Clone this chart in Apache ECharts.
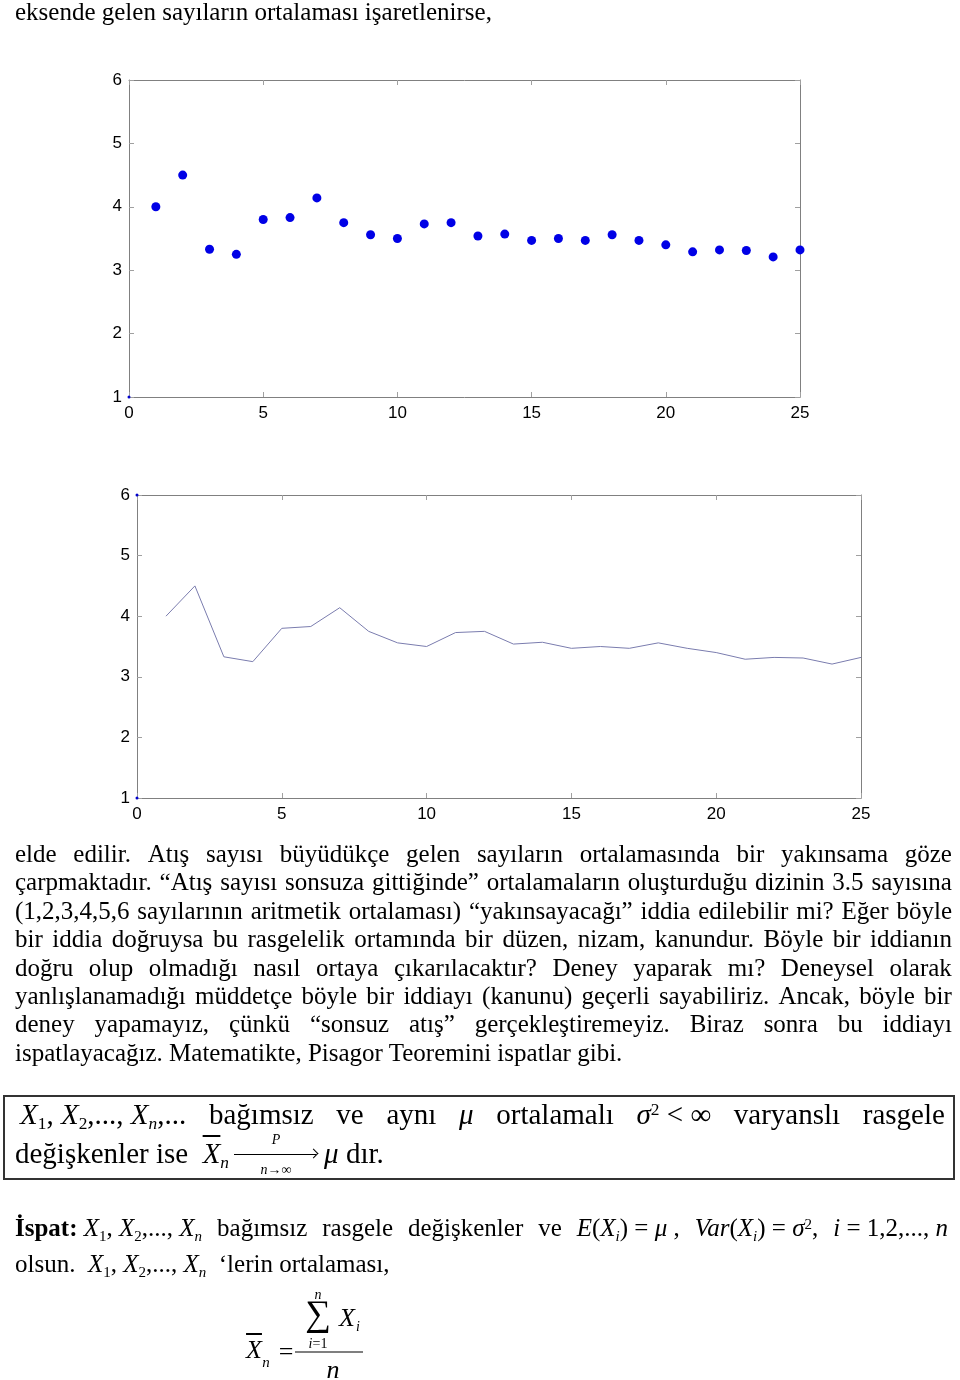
<!DOCTYPE html>
<html><head><meta charset="utf-8">
<script src="https://cdn.jsdelivr.net/npm/echarts@6/dist/echarts.min.js"></script>
<style>
html,body{margin:0;padding:0;background:#fff;}
#page{position:relative;width:960px;height:1380px;overflow:hidden;font-family:"Liberation Serif","Times New Roman",serif;color:#000;}
#chart{position:absolute;left:0;top:0;width:960px;height:1380px;}
.ln{position:absolute;white-space:nowrap;line-height:1;}
.jl{display:flex;justify-content:space-between;align-items:baseline;}
.jl>span{white-space:nowrap;}
.sb{font-size:0.6em;position:relative;top:0.3em;}
.sp{font-size:0.6em;position:relative;top:-0.5em;}
.grp{display:inline-block;white-space:nowrap;}
.abs{position:absolute;line-height:1;white-space:nowrap;}
#box{position:absolute;left:3px;top:1095px;width:952px;height:85px;border:2px solid #333;box-sizing:border-box;}
.arrow{display:inline-block;position:relative;width:84px;height:0;vertical-align:baseline;margin:0 6px 0 5px;}
</style></head>
<body><div id="page"><div id="chart"></div><div id="box"></div></div>
<script>
// ---- data ----
const throwCounts = [1,2,3,4,5,6,7,8,9,10,11,12,13,14,15,16,17,18,19,20,21,22,23,24,25];
const runningMeans = [4.0,4.5,3.33,3.25,3.8,3.83,4.14,3.75,3.56,3.5,3.73,3.75,3.54,3.57,3.47,3.5,3.47,3.56,3.47,3.4,3.29,3.32,3.31,3.21,3.32];
const cornerDotsX1 = [0];
const cornerDotsY1 = [1];
const cornerDotsX2 = [0,0];
const cornerDotsY2 = [6,1];
const xTickLabels = [0,5,10,15,20,25];
const yTickLabels = [1,2,3,4,5,6];

// ---- chart ----
const chart = echarts.init(document.getElementById('chart'), null, {renderer:'canvas'});
const xMin = xTickLabels[0], xMax = xTickLabels[xTickLabels.length-1], xInt = xTickLabels[1]-xTickLabels[0];
const yMin = yTickLabels[0], yMax = yTickLabels[yTickLabels.length-1], yInt = yTickLabels[1]-yTickLabels[0];
const labelStyle = {color:'#000', fontSize:17, fontFamily:'Liberation Sans, Arial, sans-serif'};
function xAx(grid, pos, showLabel){
  return {type:'value', gridIndex:grid, position:pos, min:xMin, max:xMax, interval:xInt,
    axisLine:{show:true, onZero:false, lineStyle:{color:'#808080', width:1}},
    axisTick:{show:true, inside:true, length:5, lineStyle:{color:'#a0a0a0'}},
    axisLabel:Object.assign({show:showLabel, margin:8}, labelStyle),
    splitLine:{show:false}};
}
function yAx(grid, pos, showLabel){
  return {type:'value', gridIndex:grid, position:pos, min:yMin, max:yMax, interval:yInt,
    axisLine:{show:true, onZero:false, lineStyle:{color:'#808080', width:1}},
    axisTick:{show:true, inside:true, length:5, lineStyle:{color:'#a0a0a0'}},
    axisLabel:Object.assign({show:showLabel, margin:7}, labelStyle),
    splitLine:{show:false}};
}
const pts = throwCounts.map((n,i)=>[n, runningMeans[i]]);
chart.setOption({
  animation:false,
  backgroundColor:'transparent',
  grid:[
    {left:129, top:80, width:671, height:317},
    {left:137, top:495, width:724, height:303}
  ],
  xAxis:[xAx(0,'bottom',true), xAx(0,'top',false), xAx(1,'bottom',true), xAx(1,'top',false)],
  yAxis:[yAx(0,'left',true), yAx(0,'right',false), yAx(1,'left',true), yAx(1,'right',false)],
  series:[
    {type:'scatter', xAxisIndex:0, yAxisIndex:0, data:pts, symbol:'circle', symbolSize:9,
      itemStyle:{color:'#0000e6', opacity:1}, clip:false},
    {type:'scatter', xAxisIndex:0, yAxisIndex:0, data:cornerDotsX1.map((x,i)=>[x,cornerDotsY1[i]]), symbolSize:3,
      itemStyle:{color:'#0000cc', opacity:1}, clip:false},
    {type:'line', xAxisIndex:2, yAxisIndex:2, data:pts, showSymbol:false,
      lineStyle:{color:'#7a7cae', width:1}, clip:false},
    {type:'scatter', xAxisIndex:2, yAxisIndex:2, data:cornerDotsX2.map((x,i)=>[x,cornerDotsY2[i]]), symbolSize:3,
      itemStyle:{color:'#0000cc', opacity:1}, clip:false}
  ]
});

// ---- text ----
const page = document.getElementById('page');
function line(html, baseline, fs, left, width, justify){
  const d = document.createElement('div');
  d.className = 'ln' + (justify ? ' jl' : '');
  d.style.fontSize = fs + 'px';
  d.style.left = left + 'px';
  if (width) d.style.width = width + 'px';
  d.style.top = (baseline - 0.8375*fs) + 'px';
  if (justify) {
    d.innerHTML = html.map(h => '<span>' + h + '</span>').join('');
  } else d.innerHTML = html;
  page.appendChild(d);
  return d;
}
function abs(html, cx, cy, fs, extra){
  const d = document.createElement('div');
  d.className = 'abs';
  d.style.fontSize = fs + 'px';
  d.style.left = cx + 'px';
  d.style.top = cy + 'px';
  d.style.transform = 'translate(-50%,-50%)';
  if (extra) d.style.cssText += extra;
  d.innerHTML = html;
  page.appendChild(d);
}

line('eksende gelen sayıların ortalaması işaretlenirse,', 20, 25, 15, 0, false);

const para = [
  'elde edilir. Atış sayısı büyüdükçe gelen sayıların ortalamasında bir yakınsama göze',
  'çarpmaktadır. “Atış sayısı sonsuza gittiğinde” ortalamaların oluşturduğu dizinin 3.5 sayısına',
  '(1,2,3,4,5,6 sayılarının aritmetik ortalaması) “yakınsayacağı” iddia edilebilir mi? Eğer böyle',
  'bir iddia doğruysa bu rasgelelik ortamında bir düzen, nizam, kanundur. Böyle bir iddianın',
  'doğru olup olmadığı nasıl ortaya çıkarılacaktır? Deney yaparak mı? Deneysel olarak',
  'yanlışlanamadığı müddetçe böyle bir iddiayı (kanunu) geçerli sayabiliriz. Ancak, böyle bir',
  'deney yapamayız, çünkü “sonsuz atış” gerçekleştiremeyiz. Biraz sonra bu iddiayı',
  'ispatlayacağız. Matematikte, Pisagor Teoremini ispatlar gibi.'
];
para.forEach((t,i)=>{
  const b = 862 + i*28.4;
  if (i < para.length-1) line(t.split(' '), b, 25, 15, 937, true);
  else line(t, b, 25, 15, 0, false);
});

// box
const Xsub = s => '<i>X</i><span class="sb">' + s + '</span>';
line([
  '<span class="grp">' + Xsub('1') + ', ' + Xsub('2') + ',..., ' + Xsub('<i>n</i>') + ',...</span>',
  'bağımsız','ve','aynı','<i>μ</i>','ortalamalı',
  '<span class="grp"><i>σ</i><span class="sp">2</span> &lt; ∞</span>',
  'varyanslı','rasgele'
], 1124, 29, 20, 925, true);

const arrow = '<span class="arrow">' +
  '<span style="position:absolute;left:0;top:-9px;width:82px;border-top:1px solid #000"></span>' +
  '<span style="position:absolute;right:1px;top:-12.5px;width:6px;height:6px;border-top:1px solid #000;border-right:1px solid #000;transform:rotate(45deg)"></span>' +
  '<span style="position:absolute;left:42px;top:-30px;transform:translateX(-50%);font-size:14px;font-style:italic">P</span>' +
  '<span style="position:absolute;left:42px;top:0px;transform:translateX(-50%);font-size:14px;font-style:italic;white-space:nowrap">n→∞</span>' +
  '</span>';
line('değişkenler ise&nbsp; <span style="text-decoration:overline"><i>X</i></span><span class="sb"><i>n</i></span>' + arrow + '<i>μ</i> dır.', 1163, 29, 15, 0, false);

// proof
line([
  '<span class="grp"><b>İspat:</b> ' + Xsub('1') + ', ' + Xsub('2') + ',..., ' + Xsub('<i>n</i>') + '</span>',
  'bağımsız','rasgele','değişkenler','ve',
  '<span class="grp"><i>E</i>(' + Xsub('<i>i</i>') + ') = <i>μ</i> ,</span>',
  '<span class="grp"><i>Var</i>(' + Xsub('<i>i</i>') + ') = <i>σ</i><span class="sp">2</span>,</span>',
  '<span class="grp"><i>i</i> = 1,2,..., <i>n</i></span>'
], 1236, 25, 15, 933, true);
line('olsun.&nbsp; ' + Xsub('1') + ', ' + Xsub('2') + ',..., ' + Xsub('<i>n</i>') + '&nbsp; ‘lerin ortalaması,', 1272, 25, 15, 0, false);

// formula
abs('<span style="text-decoration:overline"><i>X</i></span>', 254, 1350, 26);
abs('<i>n</i>', 266, 1362, 15);
abs('=', 286, 1352, 26);
abs('', 329, 1352, 10, 'width:68px;height:0;border-top:1px solid #000;');
abs('∑', 318, 1313, 36);
abs('<i>n</i>', 318, 1295, 14);
abs('<i>i</i>=1', 318, 1344, 14);
abs('<i>X</i>', 347, 1318, 26);
abs('<i>i</i>', 358, 1327, 14);
abs('<i>n</i>', 333, 1370, 26);
</script></body></html>
